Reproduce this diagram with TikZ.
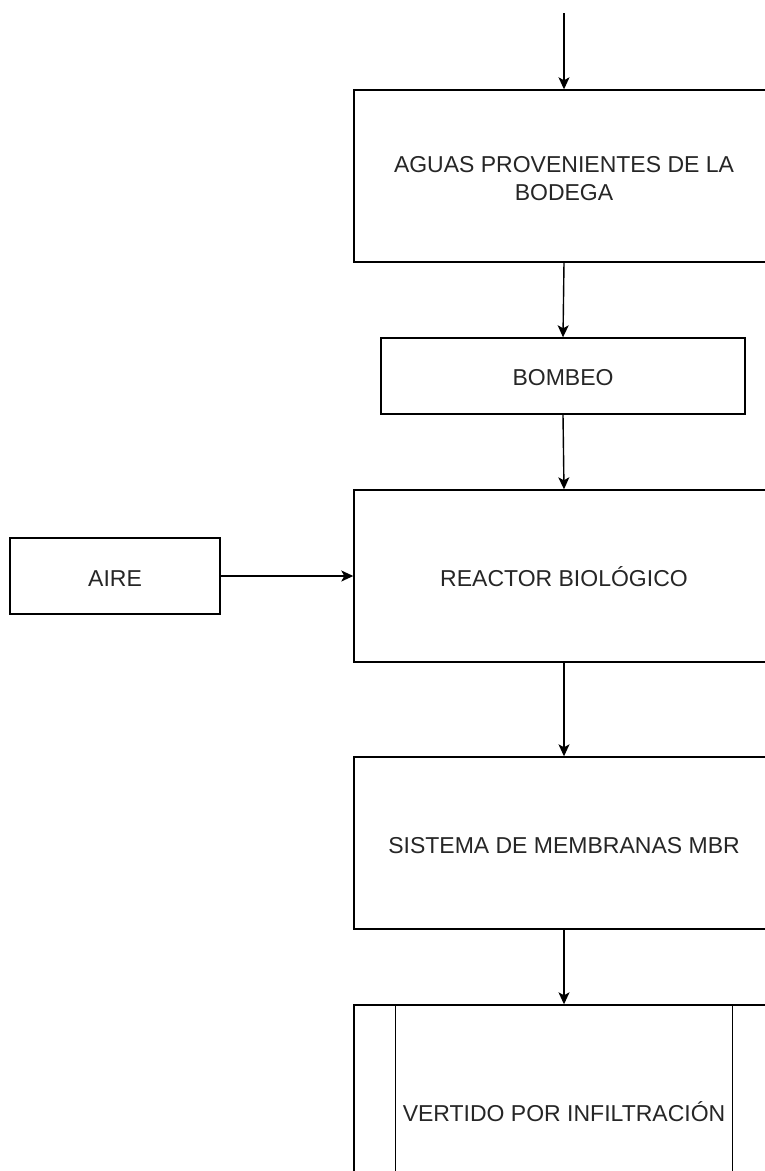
\documentclass[tikz,border=0pt]{standalone}
\usepackage{fontspec}
\setmainfont{Liberation Sans}
\usetikzlibrary{arrows.meta}
\newcommand{\shiftdown}[2]{\raisebox{-#1}[\height][\depth]{#2}}
\begin{document}
\begin{tikzpicture}[x=1pt,y=-1pt,
  box/.style={draw=black,line width=1.4pt,fill=white,minimum width=420pt,minimum height=172pt,inner sep=0pt,align=center,
    font=\fontsize{23pt}{28pt}\selectfont,text=black!85},
  smallbox/.style={box,minimum height=76pt},
  flow/.style={draw=black,line width=1.4pt,-{Stealth[length=12pt,width=11pt,inset=3pt]}}]
\useasboundingbox (0,0) rectangle (765,1171);
\clip (0,0) rectangle (765,1171);
\fill[white] (0,0) rectangle (765,1171);
\coordinate (start) at (564,13);
\node[box] (aguas) at (564,176) {\shiftdown{5pt}{\begin{tabular}{@{}c@{}}AGUAS PROVENIENTES DE LA\\BODEGA\end{tabular}}};
\node[smallbox,minimum width=364pt] (bombeo) at (563,376) {\shiftdown{2pt}{BOMBEO}};
\node[box] (reactor) at (564,576) {\shiftdown{1pt}{REACTOR BIOLÓGICO}};
\node[smallbox,minimum width=210pt] (aire) at (115,576) {\shiftdown{3pt}{AIRE}};
\node[box] (mbr) at (564,843) {\shiftdown{3pt}{SISTEMA DE MEMBRANAS MBR}};
\node[box,minimum height=214pt] (vertido) at (564,1112) {VERTIDO POR INFILTRACIÓN};
\draw[line width=1.4pt] ([xshift=42pt]vertido.north west) -- ([xshift=42pt]vertido.south west);
\draw[line width=1.4pt] ([xshift=-42pt]vertido.north east) -- ([xshift=-42pt]vertido.south east);
\draw[flow] (start) -- (aguas.north);
\draw[flow] (aguas.south) -- (bombeo.north);
\draw[flow] (bombeo.south) -- (reactor.north);
\draw[flow] (aire.east) -- (reactor.west);
\draw[flow] (reactor.south) -- (mbr.north);
\draw[flow] (mbr.south) -- (vertido.north);
\end{tikzpicture}
\end{document}
